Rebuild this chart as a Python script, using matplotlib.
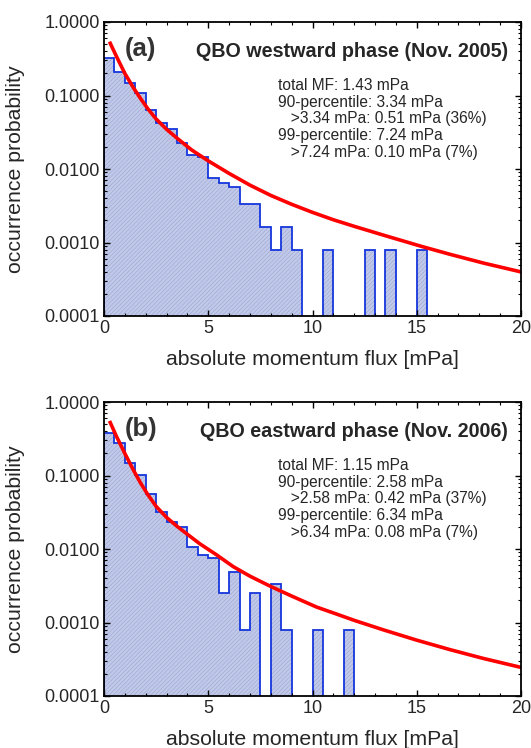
import numpy as np
import matplotlib.pyplot as plt
from matplotlib.ticker import MultipleLocator, LogLocator, FuncFormatter, NullFormatter

plt.rcParams['font.family'] = ['Liberation Sans', 'DejaVu Sans']
plt.rcParams['hatch.linewidth'] = 0.3

# histogram bins of absolute momentum flux [mPa]
bin_edges = np.arange(0, 20.01, 0.5)

# occurrence probability per bin, QBO westward phase (Nov. 2005)
prob_west = [0.321, 0.211, 0.149, 0.109, 0.0635, 0.0419, 0.035, 0.0224, 0.0155, 0.0147,
             0.0076, 0.0065, 0.0057, 0.0033, 0.0033, 0.0016, 0.0008, 0.0016, 0.0008, 0,
             0, 0.0008, 0, 0, 0, 0.0008, 0, 0.0008, 0, 0,
             0.0008, 0, 0, 0, 0, 0, 0, 0, 0, 0]

# occurrence probability per bin, QBO eastward phase (Nov. 2006)
prob_east = [0.383, 0.274, 0.147, 0.102, 0.056, 0.0322, 0.0235, 0.0201, 0.0107, 0.0083,
             0.0075, 0.0025, 0.0049, 0.0008, 0.0025, 0, 0.0033, 0.0008, 0, 0,
             0.0008, 0, 0, 0.0008, 0, 0, 0, 0, 0, 0,
             0, 0, 0, 0, 0, 0, 0, 0, 0, 0]

# fitted distributions
fit_x_west = [0.3, 0.6, 1.0, 1.4, 1.75, 2.1, 2.5, 3.0, 3.5, 4.2, 5.0, 6.0, 7.0, 8.0,
              9.0, 10.0, 11.0, 12.0, 13.4, 15.2, 16.6, 18.2, 20.0]
fit_y_west = [0.513, 0.339, 0.1995, 0.129, 0.0912, 0.0661, 0.0479, 0.0347, 0.0263, 0.0182,
              0.0129, 0.00871, 0.00603, 0.00437, 0.00331, 0.00257, 0.00204, 0.00166,
              0.00126, 0.00089, 0.00069, 0.000525, 0.000398]
fit_x_east = [0.3, 0.6, 1.0, 1.4, 1.75, 2.1, 2.5, 3.0, 3.5, 4.0, 4.6, 5.4, 6.2, 7.0,
              8.0, 9.0, 10.2, 11.0, 12.0, 13.4, 15.0, 16.6, 18.2, 20.0]
fit_y_east = [0.525, 0.339, 0.1995, 0.120, 0.0794, 0.0550, 0.0380, 0.0269, 0.0204, 0.01585,
              0.01175, 0.00832, 0.00575, 0.00427, 0.00309, 0.00229, 0.00162, 0.00135,
              0.00107, 0.000794, 0.000575, 0.000427, 0.000324, 0.000245]

stats_west = ["total MF: 1.43 mPa",
              "90-percentile: 3.34 mPa",
              "   >3.34 mPa: 0.51 mPa (36%)",
              "99-percentile: 7.24 mPa",
              "   >7.24 mPa: 0.10 mPa (7%)"]
stats_east = ["total MF: 1.15 mPa",
              "90-percentile: 2.58 mPa",
              "   >2.58 mPa: 0.42 mPa (37%)",
              "99-percentile: 6.34 mPa",
              "   >6.34 mPa: 0.08 mPa (7%)"]

TXT = '#262626'


def draw_panel(ax, probs, fit_x, fit_y, tag, title, stats):
    floor = 1e-5
    vals = np.maximum(np.asarray(probs, float), floor)
    ax.stairs(vals, bin_edges, baseline=floor, fill=True, facecolor='#c0c9eb',
              edgecolor='#959dbb', hatch='////////', linewidth=0)
    ax.stairs(vals, bin_edges, baseline=floor, color='#1536dc', linewidth=1.3)
    ax.plot(fit_x, fit_y, color='#ff0000', lw=2.6)

    ax.set_yscale('log')
    ax.set_xlim(0, 20)
    ax.set_ylim(1e-4, 1)
    ax.xaxis.set_major_locator(MultipleLocator(5))
    ax.xaxis.set_minor_locator(MultipleLocator(1))
    ax.yaxis.set_major_locator(LogLocator(base=10, numticks=10))
    ax.yaxis.set_minor_locator(LogLocator(base=10, subs=np.arange(2, 10), numticks=10))
    ax.yaxis.set_major_formatter(FuncFormatter(lambda v, p: f'{v:.4f}'))
    ax.yaxis.set_minor_formatter(NullFormatter())
    ax.tick_params(which='both', direction='in', top=True, right=True,
                   labelsize=13, labelcolor=TXT, pad=3)
    ax.tick_params(which='major', length=4, width=1)
    ax.tick_params(which='minor', length=2.2, width=0.8)
    for s in ax.spines.values():
        s.set_linewidth(1.3)

    ax.set_xlabel('absolute momentum flux [mPa]', fontsize=15.3, color=TXT)
    ax.set_ylabel('occurrence probability', fontsize=15.3, color=TXT)
    ax.xaxis.set_label_coords(0.5, -0.115)
    ax.yaxis.set_label_coords(-0.19, 0.5)

    ax.text(0.05, 0.907, tag, transform=ax.transAxes, fontsize=18.5,
            fontweight='bold', color='#333333', ha='left', va='center')
    ax.text(0.969, 0.900, title, transform=ax.transAxes, fontsize=14.2,
            fontweight='bold', color=TXT, ha='right', va='center')
    ax.text(0.418, 0.81, '\n'.join(stats), transform=ax.transAxes, fontsize=11.2,
            color=TXT, ha='left', va='top', linespacing=1.15)


fig = plt.figure(figsize=(5.31, 7.48), dpi=100)
ax_a = fig.add_axes([104 / 531, 1 - 316 / 748, 417 / 531, 294 / 748])
ax_b = fig.add_axes([104 / 531, 1 - 696 / 748, 417 / 531, 294 / 748])

draw_panel(ax_a, prob_west, fit_x_west, fit_y_west, '(a)',
           'QBO westward phase (Nov. 2005)', stats_west)
draw_panel(ax_b, prob_east, fit_x_east, fit_y_east, '(b)',
           'QBO eastward phase (Nov. 2006)', stats_east)

fig.savefig('out.png', dpi=100)
